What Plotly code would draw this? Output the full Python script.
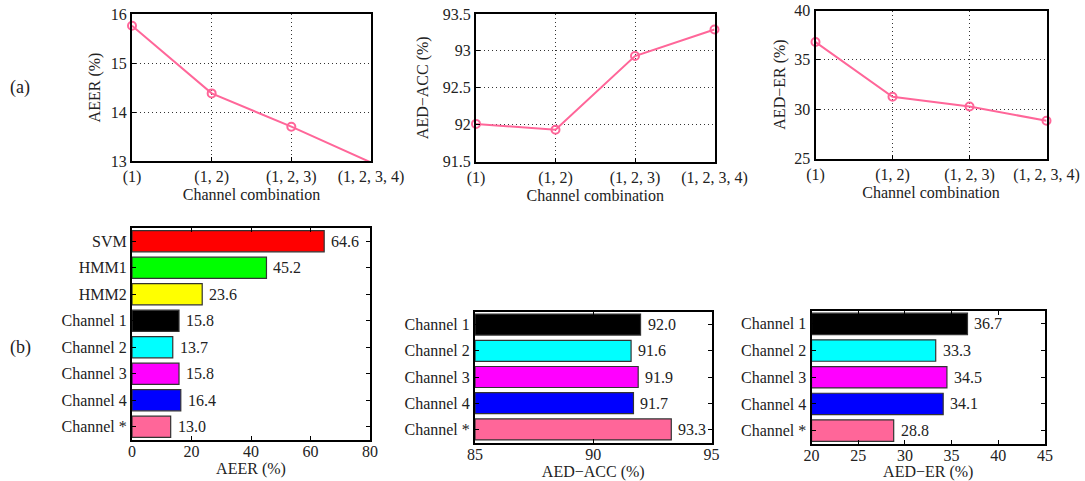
import plotly.graph_objects as go

# ---------------- data ----------------
combos = ["(1)", "(1, 2)", "(1, 2, 3)", "(1, 2, 3, 4)"]
aeer_combo = [15.76, 14.38, 13.70, 12.97]
acc_combo = [92.01, 91.93, 92.93, 93.29]
er_combo = [36.8, 31.25, 30.27, 28.82]

methods_b1 = ["SVM", "HMM1", "HMM2", "Channel 1", "Channel 2", "Channel 3", "Channel 4", "Channel *"]
aeer_vals = [64.6, 45.2, 23.6, 15.8, 13.7, 15.8, 16.4, 13.0]
colors_b1 = ["#FF0000", "#00FF00", "#FFFF00", "#000000", "#00FFFF", "#FF00FF", "#0000FF", "#FF6699"]

channels = ["Channel 1", "Channel 2", "Channel 3", "Channel 4", "Channel *"]
acc_vals = [92.0, 91.6, 91.9, 91.7, 93.3]
er_vals = [36.7, 33.3, 34.5, 34.1, 28.8]
colors_ch = ["#000000", "#00FFFF", "#FF00FF", "#0000FF", "#FF6699"]

LINE_COLOR = "#FF6699"
FONT = "Liberation Serif"
FS = 16
TXT = "#222222"

fig = go.Figure()

W, H = 1085, 481
def dx(a, b):
    return [a / W, b / W]
def dy(top, bottom):
    return [1 - bottom / H, 1 - top / H]

doms = {
    1: (dx(132, 371), dy(14, 161)),
    2: (dx(476, 714.5), dy(14, 161.5)),
    3: (dx(815.5, 1046.5), dy(10.5, 158.5)),
    4: (dx(132, 370), dy(228, 440)),
    5: (dx(475, 711.5), dy(311.5, 442.5)),
    6: (dx(811.5, 1045), dy(310.5, 444)),
}

def axname(i, kind):
    return f"{kind}axis" if i == 1 else f"{kind}axis{i}"

def ref(i, kind):
    return kind if i == 1 else f"{kind}{i}"

GRID_DASH = "1px,3px"

line_data = [(1, aeer_combo, "AEER (%)", [13, 16], [13, 14, 15, 16], ["13", "14", "15", "16"], 6),
             (2, acc_combo, "AED\u2212ACC (%)", [91.5, 93.5], [91.5, 92, 92.5, 93, 93.5], ["91.5", "92", "92.5", "93", "93.5"], 10),
             (3, er_combo, "AED\u2212ER (%)", [25, 40], [25, 30, 35, 40], ["25", "30", "35", "40"], 5)]

for i, vals, ytitle, yr, tv, tt, so in line_data:
    fig.add_trace(go.Scatter(
        x=list(range(len(combos))), y=vals, mode="lines+markers",
        line=dict(color=LINE_COLOR, width=2),
        marker=dict(symbol="circle-open", size=8, color=LINE_COLOR, line=dict(width=2, color=LINE_COLOR)),
        xaxis=ref(i, "x"), yaxis=ref(i, "y"), showlegend=False, cliponaxis=False))
    xd, yd = doms[i]
    fig.layout[axname(i, "x")] = dict(
        domain=xd, anchor=ref(i, "y"), range=[0, 3], automargin=False,
        tickmode="array", tickvals=list(range(len(combos))), ticktext=combos,
        showgrid=True, gridcolor="#333333", griddash=GRID_DASH, gridwidth=1,
        showline=True, linecolor="black", linewidth=2, mirror=True,
        ticks="inside", ticklen=4, tickcolor="black", zeroline=False,
        title=dict(text="Channel combination", standoff=0, font=dict(family=FONT, size=FS, color=TXT)),
        tickfont=dict(family=FONT, size=FS, color=TXT))
    fig.layout[axname(i, "y")] = dict(
        domain=yd, anchor=ref(i, "x"), range=yr, automargin=False,
        tickmode="array", tickvals=tv, ticktext=tt,
        showgrid=True, gridcolor="#333333", griddash=GRID_DASH, gridwidth=1,
        showline=True, linecolor="black", linewidth=2, mirror=True,
        ticks="inside", ticklen=4, tickcolor="black", zeroline=False,
        title=dict(text=ytitle, standoff=so, font=dict(family=FONT, size=FS, color=TXT)),
        tickfont=dict(family=FONT, size=FS, color=TXT))

bar_data = [(4, methods_b1, aeer_vals, colors_b1, "AEER (%)", [0, 80], [0, 20, 40, 60, 80]),
            (5, channels, acc_vals, colors_ch, "AED\u2212ACC (%)", [85, 95], [85, 90, 95]),
            (6, channels, er_vals, colors_ch, "AED\u2212ER (%)", [20, 45], [20, 25, 30, 35, 40, 45])]

annotations = []
for i, cats, vals, cols, xtitle, xr, tv in bar_data:
    base = xr[0]
    fig.add_trace(go.Bar(
        y=cats, x=[v - base for v in vals], base=base, orientation="h",
        marker=dict(color=cols, line=dict(color="#333333", width=1.2)),
        width=0.8, xaxis=ref(i, "x"), yaxis=ref(i, "y"), showlegend=False))
    for c, v in zip(cats, vals):
        annotations.append(dict(
            x=v, y=c, xref=ref(i, "x"), yref=ref(i, "y"), text=f"{v:.1f}",
            showarrow=False, xanchor="left", yanchor="middle", xshift=5,
            font=dict(family=FONT, size=FS, color=TXT)))
    xd, yd = doms[i]
    n = len(cats)
    fig.layout[axname(i, "x")] = dict(
        domain=xd, anchor=ref(i, "y"), range=xr, automargin=False,
        tickmode="array", tickvals=tv, ticktext=[str(t) for t in tv],
        showgrid=False, showline=True, linecolor="black", linewidth=2, mirror="allticks",
        ticks="inside", ticklen=4, tickcolor="black", zeroline=False,
        ticklabelstandoff=-4,
        title=dict(text=xtitle, standoff=0, font=dict(family=FONT, size=FS, color=TXT)),
        tickfont=dict(family=FONT, size=FS, color=TXT))
    fig.layout[axname(i, "y")] = dict(
        domain=yd, anchor=ref(i, "x"), range=[n - 0.5, -0.5], automargin=False,
        type="category", categoryorder="array", categoryarray=cats,
        showgrid=False, showline=True, linecolor="black", linewidth=2, mirror="allticks",
        ticks="inside", ticklen=4, tickcolor="black", zeroline=False,
        tickfont=dict(family=FONT, size=FS, color=TXT))

annotations.append(dict(x=20 / W, y=1 - 87 / H, xref="paper", yref="paper", text="(a)",
                        showarrow=False, xanchor="center", yanchor="middle",
                        font=dict(family=FONT, size=18, color=TXT)))
annotations.append(dict(x=20 / W, y=1 - 347 / H, xref="paper", yref="paper", text="(b)",
                        showarrow=False, xanchor="center", yanchor="middle",
                        font=dict(family=FONT, size=18, color=TXT)))

fig.update_layout(
    width=W, height=H, margin=dict(l=0, r=0, t=0, b=0, autoexpand=False),
    paper_bgcolor="white", plot_bgcolor="white",
    annotations=annotations, bargap=0.2,
    font=dict(family=FONT, size=FS, color=TXT))

fig.write_html("out.html", config={"displayModeBar": False},
               post_script="document.body.style.margin='0';document.body.style.padding='0';")
